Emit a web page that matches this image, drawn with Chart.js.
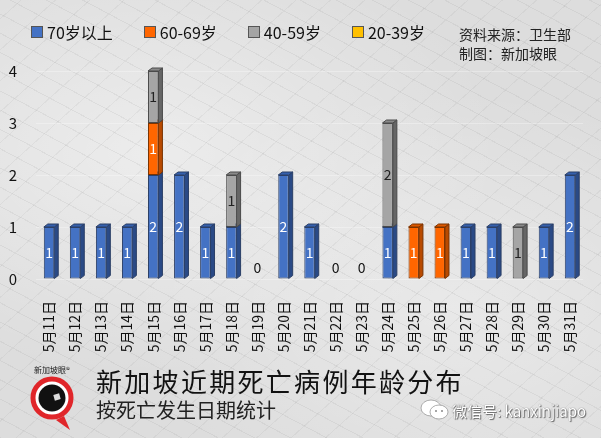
<!DOCTYPE html>
<html>
<head>
<meta charset="utf-8">
<script src="https://cdn.jsdelivr.net/npm/chart.js@4.4.1/dist/chart.umd.min.js"></script>
<style>
  html, body { margin: 0; padding: 0; }
  body { font-family: "Noto Sans CJK SC", "Noto Sans", sans-serif; }
  #wrap {
    position: relative; width: 601px; height: 438px; overflow: hidden;
    background:
      repeating-linear-gradient(28deg, rgba(120,120,120,0.10) 0 1px, rgba(255,255,255,0) 1px 17px),
      repeating-linear-gradient(-42deg, rgba(110,110,110,0.08) 0 1px, rgba(255,255,255,0) 1px 23px),
      radial-gradient(ellipse at 25% 35%, rgba(255,255,255,0.45), rgba(255,255,255,0) 55%),
      radial-gradient(ellipse at 75% 70%, rgba(255,255,255,0.35), rgba(255,255,255,0) 50%),
      #dddddd;
  }
  #chart { position: absolute; left: 0; top: 0; }
  #legend { position: absolute; left: 31px; top: 20px; display: flex; align-items: center; font-size: 16px; color: #111; }
  #legend .item { display: flex; align-items: center; margin-right: 31px; }
  #legend .box { width: 10px; height: 10px; border: 1px solid #555; margin-right: 4px; }
  #source { position: absolute; left: 459px; top: 25px; font-size: 14px; line-height: 19px; color: #222; }
  #title { position: absolute; left: 96px; top: 362px; font-size: 26px; color: #111; letter-spacing: 2.3px; }
  #subtitle { position: absolute; left: 96px; top: 395px; font-size: 20px; color: #222; }
  #wechat { position: absolute; left: 452px; top: 400px; font-size: 15px; color: #ffffff;
    text-shadow: 0 0 1px #555, 1px 1px 1px #666; }
  #logo { position: absolute; left: 26px; top: 364px; }
  #wxicon { position: absolute; left: 420px; top: 398px; }
</style>
</head>
<body>
<div id="wrap">
  <canvas id="chart" width="601" height="438"></canvas>
  <div id="legend"></div>
  <div id="source">资料来源：卫生部<br>制图：新加坡眼</div>
  <svg id="logo" width="56" height="68" viewBox="0 0 56 68">
    <text x="26" y="9" font-size="8" text-anchor="middle" fill="#222">新加坡眼®</text>
    <path d="M38 52 L44 66 L30 56 Z" fill="#e0262a"/>
    <circle cx="26" cy="34" r="19" fill="#fff" stroke="#e0262a" stroke-width="5"/>
    <circle cx="26" cy="34" r="13.5" fill="#111"/>
    <rect x="28" y="30" width="6" height="6" fill="#ddd" transform="rotate(-15 31 33)"/>
  </svg>
  <svg id="wxicon" width="30" height="24" viewBox="0 0 30 24">
    <ellipse cx="11" cy="10" rx="10" ry="8" fill="#fff" stroke="#999" stroke-width="0.8"/>
    <ellipse cx="19" cy="14" rx="9" ry="7" fill="#fff" stroke="#999" stroke-width="0.8"/>
    <circle cx="16" cy="13" r="1" fill="#888"/><circle cx="22" cy="13" r="1" fill="#888"/>
  </svg>
  <div id="title">新加坡近期死亡病例年龄分布</div>
  <div id="subtitle">按死亡发生日期统计</div>
  <div id="wechat">微信号: kanxinjiapo</div>
</div>
<script>
// 数据
const dates = ['5月11日', '5月12日', '5月13日', '5月14日', '5月15日', '5月16日', '5月17日',
  '5月18日', '5月19日', '5月20日', '5月21日', '5月22日', '5月23日', '5月24日',
  '5月25日', '5月26日', '5月27日', '5月28日', '5月29日', '5月30日', '5月31日'];
const over70  = [1, 1, 1, 1, 2, 2, 1, 1, 0, 2, 1, 0, 0, 1, 0, 0, 1, 1, 0, 1, 2];
const age6069 = [0, 0, 0, 0, 1, 0, 0, 0, 0, 0, 0, 0, 0, 0, 1, 1, 0, 0, 0, 0, 0];
const age4059 = [0, 0, 0, 0, 1, 0, 0, 1, 0, 0, 0, 0, 0, 2, 0, 0, 0, 0, 1, 0, 0];
const age2039 = [0, 0, 0, 0, 0, 0, 0, 0, 0, 0, 0, 0, 0, 0, 0, 0, 0, 0, 0, 0, 0];
const yTicks = [0, 1, 2, 3, 4];

const FONT = '"Noto Sans CJK SC", "Noto Sans", sans-serif';

// 颜色：正面 / 侧面 / 顶面 / 标签
const styles = [
  { front: '#4472c4', side: '#2a4a86', top: '#3560ad', border: '#2b3f66', text: '#ffffff' },
  { front: '#ff6600', side: '#b84a00', top: '#dd5800', border: '#7a3300', text: '#ffffff' },
  { front: '#a5a5a5', side: '#666666', top: '#8a8a8a', border: '#4a4a4a', text: '#222222' },
  { front: '#ffc000', side: '#b88a00', top: '#dda600', border: '#7a5c00', text: '#222222' }
];

const series = [
  { label: '70岁以上', data: over70 },
  { label: '60-69岁', data: age6069 },
  { label: '40-59岁', data: age4059 },
  { label: '20-39岁', data: age2039 }
];

// 图例（HTML）
const legendEl = document.getElementById('legend');
series.forEach((s, i) => {
  const item = document.createElement('div');
  item.className = 'item';
  const box = document.createElement('span');
  box.className = 'box';
  box.style.background = styles[i].front;
  const txt = document.createElement('span');
  txt.textContent = s.label;
  item.appendChild(box);
  item.appendChild(txt);
  legendEl.appendChild(item);
});

const DX = 4, DY = 3;

// 3D 侧面和顶面
const bar3d = {
  id: 'bar3d',
  beforeDatasetsDraw(chart) {
    const ctx = chart.ctx;
    ctx.save();
    chart.data.datasets.forEach((ds, di) => {
      const meta = chart.getDatasetMeta(di);
      const st = styles[di];
      meta.data.forEach((el, i) => {
        if (!ds.data[i]) return;
        const p = el.getProps(['x', 'y', 'base', 'width'], true);
        const left = p.x - p.width / 2, right = p.x + p.width / 2;
        const top = p.y, bottom = p.base;
        ctx.lineWidth = 1;
        ctx.strokeStyle = st.border;
        // 侧面
        ctx.beginPath();
        ctx.moveTo(right, top);
        ctx.lineTo(right + DX, top - DY);
        ctx.lineTo(right + DX, bottom - DY);
        ctx.lineTo(right, bottom);
        ctx.closePath();
        ctx.fillStyle = st.side;
        ctx.fill();
        ctx.stroke();
        // 顶面
        ctx.beginPath();
        ctx.moveTo(left, top);
        ctx.lineTo(left + DX, top - DY);
        ctx.lineTo(right + DX, top - DY);
        ctx.lineTo(right, top);
        ctx.closePath();
        ctx.fillStyle = st.top;
        ctx.fill();
        ctx.stroke();
      });
    });
    ctx.restore();
  }
};

// 数据标签
const valueLabels = {
  id: 'valueLabels',
  afterDatasetsDraw(chart) {
    const ctx = chart.ctx;
    ctx.save();
    ctx.font = '14px ' + FONT;
    ctx.textAlign = 'center';
    ctx.textBaseline = 'middle';
    chart.data.datasets.forEach((ds, di) => {
      const meta = chart.getDatasetMeta(di);
      meta.data.forEach((el, i) => {
        const v = ds.data[i];
        const p = el.getProps(['x', 'y', 'base'], true);
        if (v > 0) {
          ctx.fillStyle = styles[di].text;
          ctx.fillText(String(v), p.x, (p.y + p.base) / 2);
        } else if (di === 0) {
          const total = chart.data.datasets.reduce((a, d) => a + d.data[i], 0);
          if (total === 0) {
            ctx.fillStyle = '#111';
            ctx.fillText('0', p.x, p.base - 11);
          }
        }
      });
    });
    ctx.restore();
  }
};

new Chart(document.getElementById('chart'), {
  type: 'bar',
  data: {
    labels: dates,
    datasets: series.map((s, i) => ({
      label: s.label,
      data: s.data,
      backgroundColor: styles[i].front,
      borderColor: styles[i].border,
      borderWidth: 1,
      borderSkipped: false,
      barPercentage: 0.4,
      categoryPercentage: 1
    }))
  },
  options: {
    responsive: false,
    animation: false,
    layout: { padding: { top: 71, right: 8, bottom: 83, left: 0 } },
    plugins: { legend: { display: false }, tooltip: { enabled: false } },
    scales: {
      x: {
        stacked: true,
        grid: { display: false },
        border: { display: false },
        ticks: {
          minRotation: 90, maxRotation: 90, autoSkip: false, padding: 14,
          color: '#111', font: { family: FONT, size: 14 }
        },
        afterFit(scale) { scale.height = 76; }
      },
      y: {
        stacked: true,
        min: 0, max: 4,
        afterBuildTicks(scale) { scale.ticks = yTicks.map(v => ({ value: v })); },
        grid: { color: 'rgba(255,255,255,0.3)', drawTicks: false },
        border: { display: false },
        ticks: { padding: 19, color: '#111', font: { family: FONT, size: 15 } },
        afterFit(scale) { scale.width = 36; }
      }
    }
  },
  plugins: [bar3d, valueLabels]
});
</script>
</body>
</html>
